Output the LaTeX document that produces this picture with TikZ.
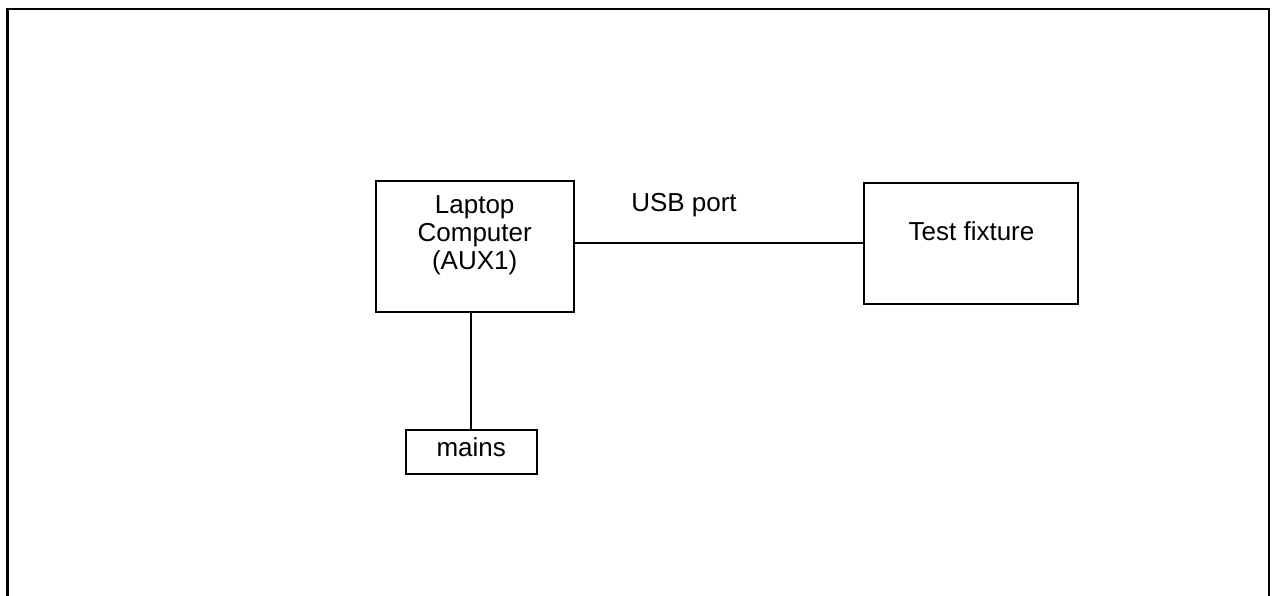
\documentclass[tikz,border=0pt]{standalone}
\usepackage{fontspec}
\setmainfont{Liberation Sans}
\begin{document}
\begin{tikzpicture}[x=1pt,y=-1pt,
  boxstyle/.style={draw=black,line width=2pt,rectangle,inner sep=0pt},
  lbl/.style={font=\fontsize{26}{28}\selectfont,inner sep=0pt,align=center},
  wire/.style={draw=black,line width=2pt}]
\useasboundingbox (0,0) rectangle (1272,596);
\draw[line width=2.5pt] (7.5,610) -- (7.5,9) -- (1269,9) -- (1269,610);
\node[boxstyle,minimum width=198pt,minimum height=131pt] (laptop) at (474.7,246.7) {};
\node[lbl,anchor=north] (laptoptxt) at (474.7,195.4) {Laptop\\Computer\\(AUX1)};
\node[boxstyle,minimum width=214pt,minimum height=121.6pt] (fixture) at (971.2,243.5) {};
\node[lbl,anchor=base] (fixturetxt) at (971.5,240.7) {Test fixture};
\node[boxstyle,minimum width=131pt,minimum height=43.7pt] (mains) at (471.2,452.2) {};
\node[lbl,anchor=base] (mainstxt) at (471.2,456.7) {mains};
\node[lbl,anchor=base] (usb) at (684,212) {USB port};
\draw[wire] (laptop.east |- fixture.west) -- (fixture.west);
\draw[wire] (mains.north |- laptop.south) -- (mains.north);
\end{tikzpicture}
\end{document}
